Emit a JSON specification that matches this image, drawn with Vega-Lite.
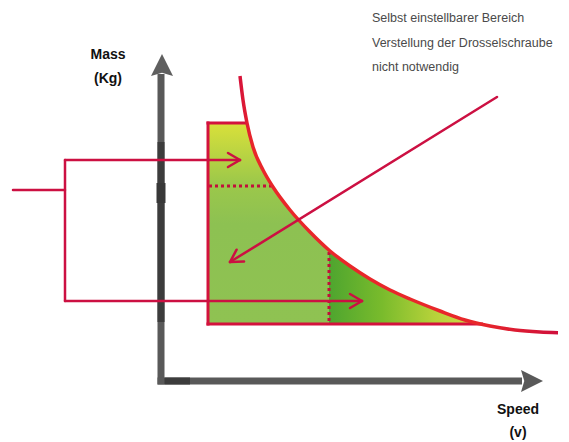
{
  "$schema": "https://vega.github.io/schema/vega-lite/v6.json",
  "width": 569,
  "height": 442,
  "autosize": {"type": "none"},
  "padding": 0,
  "background": "white",
  "config": {"view": {"stroke": null}},
  "datasets": {
    "areaA": [
      {"x": 208, "y": 123, "y2": 324},
      {"x": 247, "y": 123, "y2": 324},
      {"x": 253, "y": 147, "y2": 324},
      {"x": 263, "y": 170, "y2": 324},
      {"x": 273, "y": 187, "y2": 324},
      {"x": 290, "y": 210, "y2": 324},
      {"x": 310, "y": 232, "y2": 324},
      {"x": 330, "y": 251, "y2": 324}
    ],
    "areaB": [
      {"x": 329, "y": 250, "y2": 324},
      {"x": 350, "y": 266, "y2": 324},
      {"x": 370, "y": 279, "y2": 324},
      {"x": 390, "y": 290, "y2": 324},
      {"x": 410, "y": 299, "y2": 324},
      {"x": 440, "y": 311, "y2": 324},
      {"x": 465, "y": 320, "y2": 324},
      {"x": 480, "y": 324, "y2": 324}
    ],
    "curve": [
      {"x": 240, "y": 76},
      {"x": 243, "y": 100},
      {"x": 247, "y": 123},
      {"x": 253, "y": 147},
      {"x": 263, "y": 170},
      {"x": 273, "y": 187},
      {"x": 290, "y": 210},
      {"x": 310, "y": 232},
      {"x": 330, "y": 251},
      {"x": 350, "y": 266},
      {"x": 370, "y": 279},
      {"x": 390, "y": 290},
      {"x": 410, "y": 299},
      {"x": 440, "y": 311},
      {"x": 465, "y": 320},
      {"x": 490, "y": 326},
      {"x": 515, "y": 330},
      {"x": 540, "y": 332},
      {"x": 558, "y": 332.7}
    ],
    "segments": [
      {"kind": "axis", "x": 161, "y": 384.5, "x2": 161, "y2": 74},
      {"kind": "axis", "x": 157.5, "y": 381, "x2": 522, "y2": 381},
      {"kind": "axisDark", "x": 161, "y": 142, "x2": 161, "y2": 322},
      {"kind": "axisDark", "x": 164.5, "y": 381, "x2": 190, "y2": 381},
      {"kind": "axisTab", "x": 161, "y": 183, "x2": 161, "y2": 203},
      {"kind": "red", "x": 13, "y": 190, "x2": 65, "y2": 190},
      {"kind": "red", "x": 65, "y": 160, "x2": 65, "y2": 301},
      {"kind": "red", "x": 65, "y": 160, "x2": 240, "y2": 160},
      {"kind": "red", "x": 65, "y": 301, "x2": 362, "y2": 301},
      {"kind": "red", "x": 497, "y": 97, "x2": 230, "y2": 262},
      {"kind": "red", "x": 228, "y": 153, "x2": 240, "y2": 160},
      {"kind": "red", "x": 228, "y": 167, "x2": 240, "y2": 160},
      {"kind": "red", "x": 350, "y": 294, "x2": 362, "y2": 301},
      {"kind": "red", "x": 350, "y": 308, "x2": 362, "y2": 301},
      {"kind": "red", "x": 244, "y": 261.6, "x2": 230, "y2": 262},
      {"kind": "red", "x": 236.6, "y": 249.7, "x2": 230, "y2": 262},
      {"kind": "rect", "x": 208, "y": 121.5, "x2": 208, "y2": 325.5},
      {"kind": "rect", "x": 206.5, "y": 123, "x2": 248, "y2": 123},
      {"kind": "rect", "x": 206.5, "y": 324, "x2": 483, "y2": 324},
      {"kind": "dot", "x": 209, "y": 186, "x2": 272, "y2": 186},
      {"kind": "dot", "x": 329, "y": 252, "x2": 329, "y2": 323}
    ],
    "texts": [
      {"kind": "bold", "text": "Mass", "x": 108, "y": 55},
      {"kind": "bold", "text": "(Kg)", "x": 108, "y": 79},
      {"kind": "bold", "text": "Speed", "x": 518, "y": 410},
      {"kind": "bold", "text": "(v)", "x": 518, "y": 433},
      {"kind": "note", "text": "Selbst einstellbarer Bereich", "x": 372, "y": 18},
      {"kind": "note", "text": "Verstellung der Drosselschraube", "x": 372, "y": 43},
      {"kind": "note", "text": "nicht notwendig", "x": 372, "y": 67}
    ],
    "heads": [
      {"kind": "up", "x": 162, "y": 65},
      {"kind": "right", "x": 532, "y": 381}
    ]
  },
  "encoding": {
    "x": {"field": "x", "type": "quantitative", "scale": {"domain": [0, 569], "nice": false, "zero": false}, "axis": null},
    "y": {"field": "y", "type": "quantitative", "scale": {"domain": [0, 442], "reverse": true, "nice": false, "zero": false}, "axis": null}
  },
  "layer": [
    {
      "data": {"name": "areaA"},
      "mark": {
        "type": "area",
        "interpolate": "monotone",
        "color": {
          "gradient": "linear", "x1": 0, "y1": 0, "x2": 0, "y2": 1,
          "stops": [
            {"offset": 0, "color": "#d9e03a"},
            {"offset": 0.3, "color": "#9cc84a"},
            {"offset": 0.5, "color": "#8dc152"},
            {"offset": 1, "color": "#8fc252"}
          ]
        }
      },
      "encoding": {"y2": {"field": "y2"}}
    },
    {
      "data": {"name": "areaB"},
      "mark": {
        "type": "area",
        "interpolate": "monotone",
        "color": {
          "gradient": "linear", "x1": 0, "y1": 0, "x2": 1, "y2": 0,
          "stops": [
            {"offset": 0, "color": "#4ea52f"},
            {"offset": 0.35, "color": "#79bb2c"},
            {"offset": 0.7, "color": "#b7d23a"},
            {"offset": 1, "color": "#d6dc4a"}
          ]
        }
      },
      "encoding": {"y2": {"field": "y2"}}
    },
    {
      "data": {"name": "segments"},
      "transform": [{"filter": "datum.kind === 'dot'"}],
      "mark": {"type": "rule", "color": "#c20f3b", "strokeWidth": 3, "strokeDash": [3, 3]},
      "encoding": {"x2": {"field": "x2"}, "y2": {"field": "y2"}}
    },
    {
      "data": {"name": "segments"},
      "transform": [{"filter": "datum.kind === 'rect'"}],
      "mark": {"type": "rule", "color": "#d3123c", "strokeWidth": 3},
      "encoding": {"x2": {"field": "x2"}, "y2": {"field": "y2"}}
    },
    {
      "data": {"name": "curve"},
      "mark": {
        "type": "line",
        "interpolate": "monotone",
        "strokeWidth": 3.5,
        "color": {
          "gradient": "linear", "x1": 0, "y1": 0, "x2": 1, "y2": 0,
          "stops": [
            {"offset": 0, "color": "#d7133a"},
            {"offset": 0.04, "color": "#e8272a"},
            {"offset": 0.75, "color": "#e8272a"},
            {"offset": 1, "color": "#cf0f3c"}
          ]
        }
      }
    },
    {
      "data": {"name": "segments"},
      "transform": [{"filter": "datum.kind === 'axis'"}],
      "mark": {"type": "rule", "color": "#595959", "strokeWidth": 7},
      "encoding": {"x2": {"field": "x2"}, "y2": {"field": "y2"}}
    },
    {
      "data": {"name": "segments"},
      "transform": [{"filter": "datum.kind === 'axisDark'"}],
      "mark": {"type": "rule", "color": "#3c3c3c", "strokeWidth": 7},
      "encoding": {"x2": {"field": "x2"}, "y2": {"field": "y2"}}
    },
    {
      "data": {"name": "segments"},
      "transform": [{"filter": "datum.kind === 'axisTab'"}],
      "mark": {"type": "rule", "color": "#383838", "strokeWidth": 9},
      "encoding": {"x2": {"field": "x2"}, "y2": {"field": "y2"}}
    },
    {
      "data": {"name": "heads"},
      "transform": [{"filter": "datum.kind === 'up'"}],
      "mark": {"type": "point", "filled": true, "color": "#5f5f5f", "opacity": 1, "size": 484, "shape": "M0,-1L1,1L0,0.7L-1,1Z"}
    },
    {
      "data": {"name": "heads"},
      "transform": [{"filter": "datum.kind === 'right'"}],
      "mark": {"type": "point", "filled": true, "color": "#595959", "opacity": 1, "size": 484, "shape": "M1,0L-1,1L-0.7,0L-1,-1Z"}
    },
    {
      "data": {"name": "segments"},
      "transform": [{"filter": "datum.kind === 'red'"}],
      "mark": {"type": "rule", "color": "#cc1042", "strokeWidth": 2.5, "strokeCap": "round"},
      "encoding": {"x2": {"field": "x2"}, "y2": {"field": "y2"}}
    },
    {
      "data": {"name": "texts"},
      "transform": [{"filter": "datum.kind === 'bold'"}],
      "mark": {"type": "text", "font": "Liberation Sans", "fontWeight": "bold", "fontSize": 14, "color": "#111111", "align": "center", "baseline": "middle"},
      "encoding": {"text": {"field": "text"}}
    },
    {
      "data": {"name": "texts"},
      "transform": [{"filter": "datum.kind === 'note'"}],
      "mark": {"type": "text", "font": "Liberation Sans", "fontSize": 12.5, "color": "#4a4a4a", "align": "left", "baseline": "middle"},
      "encoding": {"text": {"field": "text"}}
    }
  ]
}
